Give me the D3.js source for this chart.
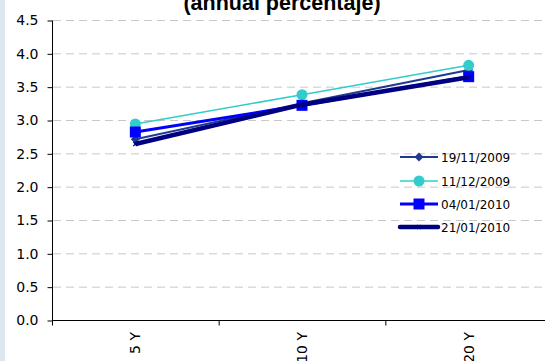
<!DOCTYPE html>
<html>
<head>
<meta charset="utf-8">
<script src="https://cdn.jsdelivr.net/npm/d3@7"></script>
<style>
  body { margin: 0; background: #fff; }
  svg { display: block; }
</style>
</head>
<body>
<div id="chart"></div>
<script>
var categories = ['5 Y', '10 Y', '20 Y'];
var seriesNames = ['19/11/2009', '11/12/2009', '04/01/2010', '21/01/2010'];
var values19Nov = [2.71, 3.25, 3.75];
var values11Dec = [2.94, 3.38, 3.82];
var values04Jan = [2.82, 3.22, 3.65];
var values21Jan = [2.64, 3.23, 3.64];
var yTicks = [0, 0.5, 1, 1.5, 2, 2.5, 3, 3.5, 4, 4.5];

var series = [
    { name: seriesNames[0], values: values19Nov, color: '#1f3a93', width: 2, marker: 'diamond' },
    { name: seriesNames[1], values: values11Dec, color: '#33cccc', width: 1.5, marker: 'circle' },
    { name: seriesNames[2], values: values04Jan, color: '#0000ff', width: 3, marker: 'square' },
    { name: seriesNames[3], values: values21Jan, color: '#000080', width: 4.5, marker: 'cross' }
];

var width = 545, height = 361;
var margin = { left: 52, top: 20, bottom: 41 };
var plotRight = 552;

var svg = d3.select('#chart').append('svg')
    .attr('width', width)
    .attr('height', height);

// light strip on the left edge
svg.append('rect')
    .attr('x', 0).attr('y', 0)
    .attr('width', 5).attr('height', height)
    .style('fill', '#dde7ef');

var x = d3.scaleBand()
    .domain(categories)
    .range([margin.left, plotRight]);

var y = d3.scaleLinear()
    .domain([0, 4.5])
    .range([height - margin.bottom, margin.top]);

// gridlines
svg.append('g').selectAll('line')
    .data(yTicks.filter(function(d) { return d > 0; }))
    .enter().append('line')
    .attr('x1', margin.left + 1).attr('x2', width)
    .attr('y1', function(d) { return y(d) + 0.5; })
    .attr('y2', function(d) { return y(d) + 0.5; })
    .style('stroke', '#c8c8c8')
    .style('stroke-width', 1)
    .style('stroke-dasharray', '8,5');

// y axis
var yAxis = svg.append('g')
    .attr('transform', 'translate(' + (margin.left + 0.5) + ',0.5)')
    .call(d3.axisLeft(y).tickValues(yTicks).tickFormat(d3.format('.1f')).tickSize(5).tickPadding(9));
yAxis.select('.domain').attr('d', 'M0,' + y(4.5) + 'V' + y(0));
yAxis.selectAll('text')
    .style('font-family', 'DejaVu Sans')
    .style('font-size', '14px')
    .style('fill', '#000');

// x axis
var xAxis = svg.append('g')
    .attr('transform', 'translate(0,' + (y(0) + 0.5) + ')')
    .call(d3.axisBottom(x).tickSize(0).tickFormat(''));
xAxis.select('.domain').attr('d', 'M' + margin.left + ',0H' + width);

var bounds = categories.map(function(c) { return x(c); }).concat([x.range()[1]]);
xAxis.selectAll('.bound')
    .data(bounds)
    .enter().append('line')
    .attr('x1', function(d) { return d + 0.5; })
    .attr('x2', function(d) { return d + 0.5; })
    .attr('y1', 0).attr('y2', 5)
    .style('stroke', '#000');

svg.append('g').selectAll('text')
    .data(categories)
    .enter().append('text')
    .attr('transform', function(d) {
        return 'translate(' + (x(d) + x.bandwidth() / 2 + 5) + ',' + 332 + ') rotate(-90)';
    })
    .attr('text-anchor', 'end')
    .style('font-family', 'DejaVu Sans')
    .style('font-size', '14px')
    .style('fill', '#000')
    .text(function(d) { return d; });

// title (partly outside the picture)
svg.append('text')
    .attr('x', 282).attr('y', 10)
    .attr('text-anchor', 'middle')
    .style('font-family', 'Liberation Sans, Arial, sans-serif')
    .style('font-weight', 'bold')
    .style('font-size', '21.5px')
    .style('fill', '#000')
    .text('(annual percentaje)');

function cx(d, i) { return x(categories[i]) + x.bandwidth() / 2; }

function drawMarker(sel, s) {
    if (s.marker === 'circle') {
        sel.append('circle').attr('r', 5.5).style('fill', s.color);
    } else if (s.marker === 'square') {
        sel.append('rect').attr('x', -5.5).attr('y', -5.5).attr('width', 11).attr('height', 11).style('fill', s.color);
    } else if (s.marker === 'diamond') {
        sel.append('path').attr('d', 'M0,-4.5L4.5,0L0,4.5L-4.5,0Z').style('fill', s.color);
    } else if (s.marker === 'cross') {
        sel.append('path').attr('d', 'M-2,-2L2,2M2,-2L-2,2').style('stroke', s.color).style('stroke-width', 1.2);
    }
}

var line = d3.line()
    .x(cx)
    .y(function(d) { return y(d); });

series.forEach(function(s) {
    var g = svg.append('g');
    g.append('path')
        .datum(s.values)
        .attr('d', line)
        .style('fill', 'none')
        .style('stroke', s.color)
        .style('stroke-width', s.width)
        .style('stroke-linejoin', 'round');
    g.selectAll('.pt')
        .data(s.values)
        .enter().append('g')
        .attr('transform', function(d, i) { return 'translate(' + cx(d, i) + ',' + y(d) + ')'; })
        .each(function() { drawMarker(d3.select(this), s); });
});

// legend
var legend = svg.append('g');
var legendY = [157, 181, 204, 227];
series.forEach(function(s, i) {
    var row = legend.append('g').attr('transform', 'translate(0,' + legendY[i] + ')');
    row.append('line')
        .attr('x1', 400).attr('x2', 438)
        .attr('y1', 0).attr('y2', 0)
        .style('stroke', s.color)
        .style('stroke-width', s.width)
        .style('stroke-linecap', s.marker === 'cross' ? 'round' : 'butt');
    var m = row.append('g').attr('transform', 'translate(419,0)');
    drawMarker(m, s);
    row.append('text')
        .attr('x', 441).attr('y', 4.5)
        .style('font-family', 'DejaVu Sans')
        .style('font-size', '12px')
        .style('fill', '#000')
        .text(s.name);
});
</script>
</body>
</html>
